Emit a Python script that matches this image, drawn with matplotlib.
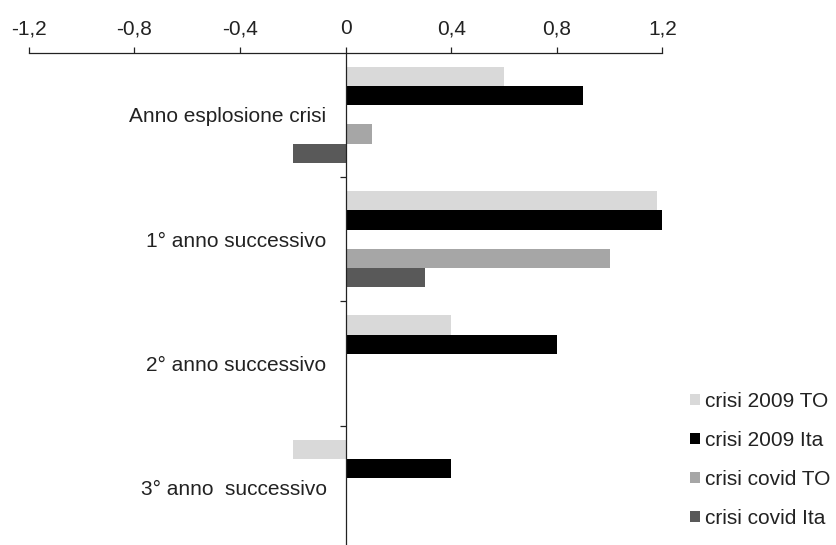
import numpy as np
import matplotlib
matplotlib.use('Agg')
import matplotlib.pyplot as plt
from matplotlib.patches import Patch

plt.rcParams['font.family'] = ['Liberation Sans', 'DejaVu Sans']

categorie = ['Anno esplosione crisi', '1° anno successivo',
             '2° anno successivo', '3° anno  successivo']
serie = ['crisi 2009 TO', 'crisi 2009 Ita', 'crisi covid TO', 'crisi covid Ita']
crisi_2009_to = [0.6, 1.18, 0.4, -0.2]
crisi_2009_ita = [0.9, 1.2, 0.8, 0.4]
crisi_covid_to = [0.1, 1.0, np.nan, np.nan]
crisi_covid_ita = [-0.2, 0.3, np.nan, np.nan]
xticks = [-1.2, -0.8, -0.4, 0, 0.4, 0.8, 1.2]
xlabels = ['-1,2', '-0,8', '-0,4', '0', '0,4', '0,8', '1,2']

colori = ['#d9d9d9', '#000000', '#a6a6a6', '#595959']
valori = [crisi_2009_to, crisi_2009_ita, crisi_covid_to, crisi_covid_ita]
# 5 posti per gruppo, quello centrale vuoto
slot = [-2, -1, 1, 2]
h = 0.155

fig = plt.figure(figsize=(8.36, 5.45), dpi=100)
ax = fig.add_axes([0.0343, -0.009, 0.7581, 0.9123])

y = np.arange(len(categorie))
for v, c, s in zip(valori, colori, slot):
    ax.barh(y + s * h, v, height=h, color=c, linewidth=0)

ax.set_xlim(-1.2, 1.2)
ax.set_ylim(3.5, -0.5)

ax.spines['right'].set_visible(False)
ax.spines['bottom'].set_visible(False)
ax.spines['left'].set_position(('data', 0))
for sp in ['left', 'top']:
    ax.spines[sp].set_linewidth(0.9)
    ax.spines[sp].set_color('#222222')

ax.xaxis.tick_top()
ax.set_xticks(xticks)
ax.set_xticklabels(xlabels)
ax.tick_params(axis='x', direction='out', length=4.3, width=0.9, pad=6,
               labelsize=15, colors='#222222')

ax.set_yticks(y)
ax.set_yticklabels(categorie)
ax.set_yticks([0.5, 1.5, 2.5], minor=True)
ax.tick_params(axis='y', which='major', length=0, pad=13.7, labelsize=15,
               colors='#222222')
ax.tick_params(axis='y', which='minor', direction='out', length=4.3, width=0.9,
               color='#222222')

handles = [Patch(facecolor=c, edgecolor='none') for c in colori]
fig.legend(handles, serie, loc='center left', bbox_to_anchor=(0.825, 0.156),
           frameon=False, fontsize=15, handlelength=0.48, handleheight=0.48,
           handletextpad=0.25, labelspacing=0.96, borderpad=0, borderaxespad=0,
           labelcolor='#222222')

plt.savefig('out.png', dpi=100)
